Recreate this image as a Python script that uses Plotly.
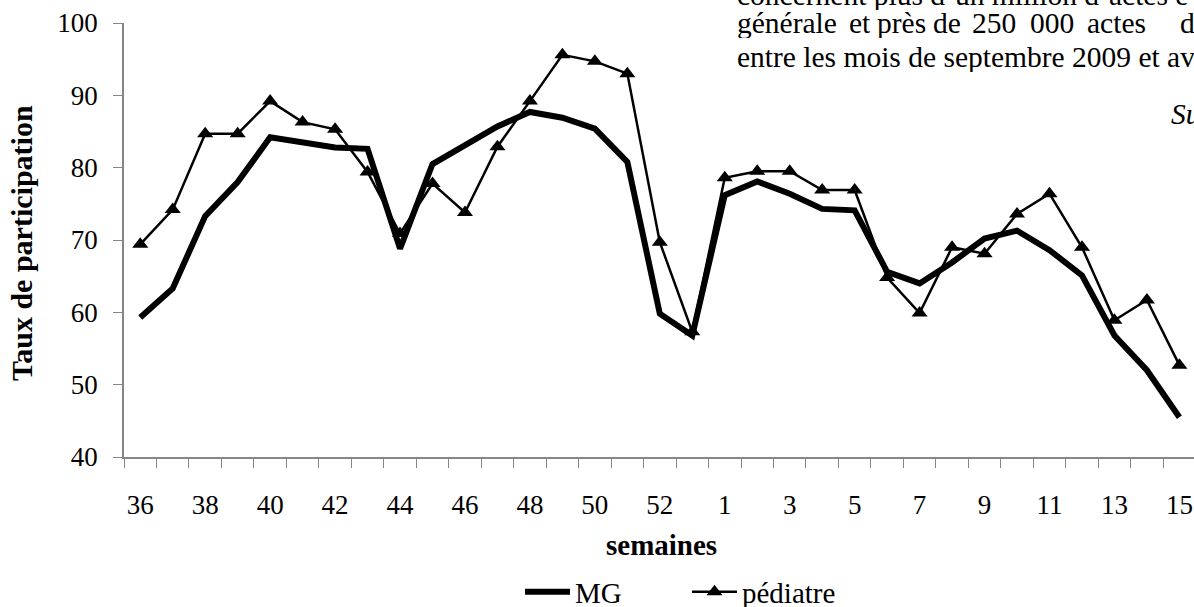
import plotly.graph_objects as go

# ---- data ----
weeks = [36, 37, 38, 39, 40, 41, 42, 43, 44, 45, 46, 47, 48, 49, 50, 51, 52, 53,
         1, 2, 3, 4, 5, 6, 7, 8, 9, 10, 11, 12, 13, 14, 15]
mg = [59.3, 63.3, 73.3, 78.0, 84.2, 83.4, 82.8, 82.6, 68.8, 80.5, 83.2, 85.7,
      87.7, 86.9, 85.4, 80.8, 59.8, 56.8, 76.2, 78.1, 76.4, 74.3, 74.1, 65.6,
      64.0, 66.9, 70.2, 71.3, 68.6, 65.1, 56.8, 52.0, 45.5]
pediatre = [69.4, 74.2, 84.7, 84.7, 89.2, 86.3, 85.3, 79.4, 70.9, 77.8, 73.8, 82.9,
            89.2, 95.6, 94.7, 93.0, 69.7, 57.3, 78.6, 79.5, 79.5, 76.9, 76.9, 64.8,
            59.9, 69.0, 68.1, 73.6, 76.4, 69.0, 58.9, 61.7, 52.7]
series_names = ["MG", "pédiatre"]
y_title = "Taux de participation"
x_title = "semaines"

x_idx = list(range(len(weeks)))
tick_vals = x_idx[::2]
tick_text = [str(weeks[i]) for i in tick_vals]
boundaries = [i - 0.5 for i in range(len(weeks) + 1)]

# ---- layout geometry (pixels) ----
W, H = 1194, 607
L, R, T, B = 124, 0, 23, 150
PW, PH = W - L - R, H - T - B

def px(x):
    return (x - L) / PW

def py(y):
    return (H - B - y) / PH

SERIF = "Liberation Serif, Times New Roman, serif"
AX = "#868686"

fig = go.Figure()
fig.add_trace(go.Scatter(
    x=x_idx, y=mg, name=series_names[0], mode="lines",
    line=dict(color="black", width=6),
))
fig.add_trace(go.Scatter(
    x=x_idx, y=pediatre, name=series_names[1], mode="lines+markers",
    line=dict(color="black", width=2.5),
    marker=dict(symbol="triangle-up", size=14, color="black"),
    cliponaxis=False,
))

fig.update_layout(
    width=W, height=H,
    margin=dict(l=L, r=R, t=T, b=B, pad=0, autoexpand=False),
    paper_bgcolor="white", plot_bgcolor="white",
    font=dict(family=SERIF, size=27, color="black"),
    showlegend=True,
    legend=dict(
        orientation="h", x=px(520), xanchor="left",
        y=py(592), yanchor="middle",
        font=dict(family=SERIF, size=29, color="black"),
        bgcolor="rgba(0,0,0,0)", itemwidth=45, entrywidth=107,
    ),
    xaxis=dict(
        range=[-0.5, 32.45], showgrid=False, zeroline=False, automargin=False,
        showline=True, linecolor=AX, linewidth=1.5,
        tickmode="array", tickvals=tick_vals, ticktext=tick_text,
        ticks="", ticklabelstandoff=23,
        tickfont=dict(family=SERIF, size=27, color="black"),
        minor=dict(tickmode="array", tickvals=boundaries, ticks="outside",
                   ticklen=9, tickwidth=1, tickcolor=AX, showgrid=False),
    ),
    yaxis=dict(
        range=[40, 100], dtick=10, showgrid=False, zeroline=False, automargin=False,
        showline=True, linecolor=AX, linewidth=1.5,
        ticks="outside", ticklen=9, tickwidth=1, tickcolor=AX,
        ticklabelstandoff=10,
        tickfont=dict(family=SERIF, size=27, color="black"),
    ),
)

annotations = [
    dict(text="<b>%s</b>" % y_title, x=px(21), y=py(243), textangle=-90,
         font=dict(family=SERIF, size=30)),
    dict(text="<b>%s</b>" % x_title, x=px(661), y=py(545),
         font=dict(family=SERIF, size=29)),
]
# background document text (bleeding into the chart image)
fs = 29.5
doc = []
doc.append(dict(text="concernent plus d’un million d’actes e",
                x=px(735), y=py(5 - 0.34 * fs)))
for word, xw in [("générale", 735), ("et", 847), ("près", 875), ("de", 931),
                 ("250", 970), ("000", 1028), ("actes", 1085), ("d", 1178)]:
    doc.append(dict(text=word, x=px(xw), y=py(33 - 0.34 * fs)))
doc.append(dict(text="entre les mois de septembre 2009 et avril",
                x=px(735), y=py(67 - 0.34 * fs)))
doc.append(dict(text="<i>Sur</i>", x=px(1169), y=py(124 - 0.34 * fs)))
for d in doc:
    d.update(xanchor="left", height=31, font=dict(family=SERIF, size=fs))
annotations += doc

for a in annotations:
    a.update(xref="paper", yref="paper", showarrow=False,
             yanchor=a.get("yanchor", "middle"),
             xanchor=a.get("xanchor", "center"))
fig.update_layout(annotations=annotations)

fig.write_html("out.html", config={"displayModeBar": False},
               post_script="document.body.style.margin='0';")
